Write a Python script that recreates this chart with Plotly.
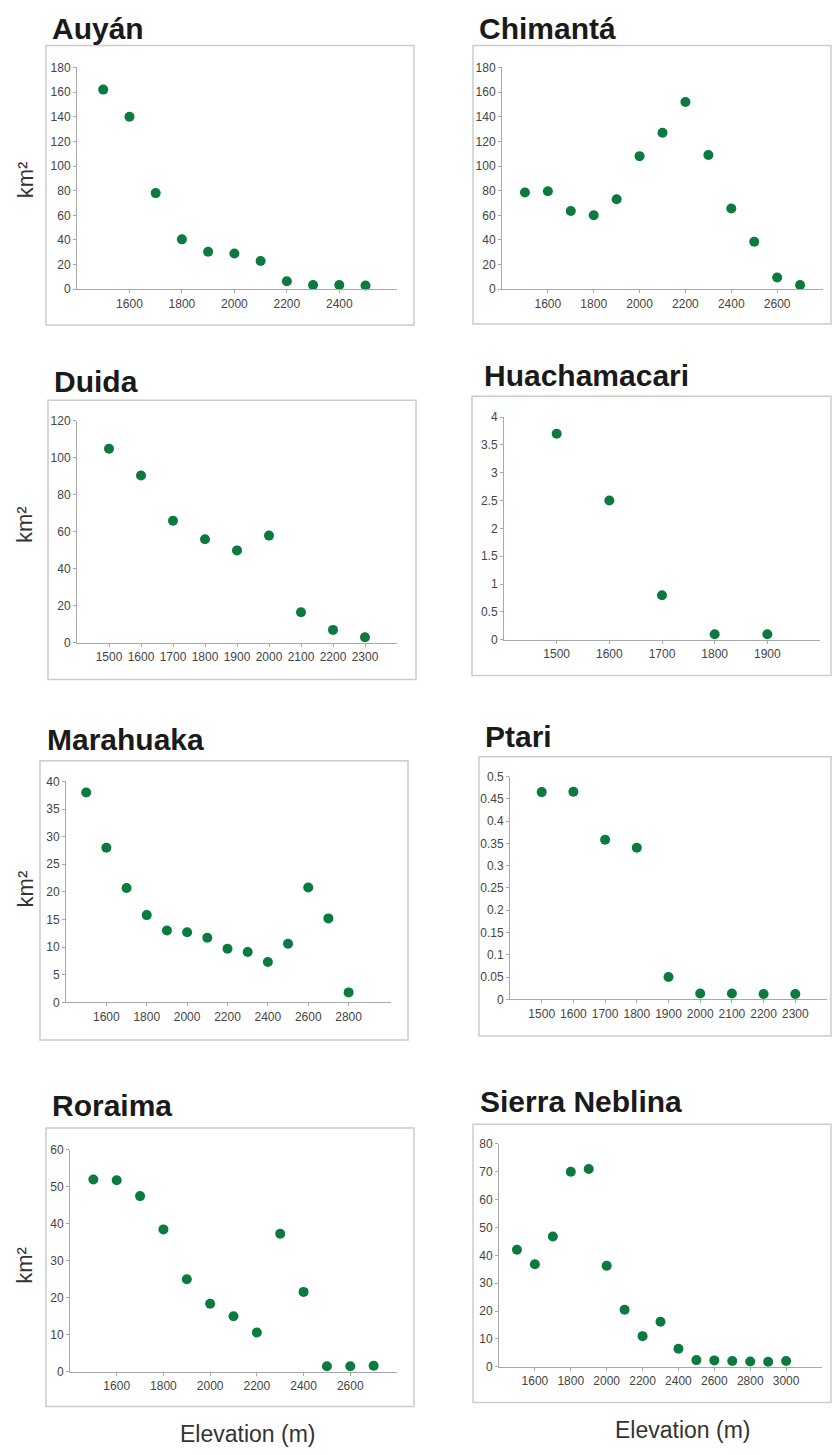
import plotly.graph_objects as go

W, H = 833, 1455

# ---------------- data ----------------
titles = ["Auyán", "Chimantá", "Duida", "Huachamacari",
          "Marahuaka", "Ptari", "Roraima", "Sierra Neblina"]

elev_auyan = [1500, 1600, 1700, 1800, 1900, 2000, 2100, 2200, 2300, 2400, 2500]
area_auyan = [162, 140, 78, 40.5, 30.5, 29, 23, 6.5, 3.5, 3.5, 3]

elev_chimanta = [1500, 1600, 1700, 1800, 1900, 2000, 2100, 2200, 2300, 2400, 2500, 2600, 2700]
area_chimanta = [78.5, 79.5, 63.5, 60, 73, 108, 127, 152, 109, 65.5, 38.5, 9.5, 3.5]

elev_duida = [1500, 1600, 1700, 1800, 1900, 2000, 2100, 2200, 2300]
area_duida = [105, 90.5, 66, 56, 50, 58, 16.5, 7, 3]

elev_huacha = [1500, 1600, 1700, 1800, 1900]
area_huacha = [3.7, 2.5, 0.8, 0.1, 0.1]

elev_marahuaka = [1500, 1600, 1700, 1800, 1900, 2000, 2100, 2200, 2300, 2400, 2500, 2600, 2700, 2800]
area_marahuaka = [38, 28, 20.7, 15.8, 13, 12.7, 11.7, 9.7, 9.1, 7.3, 10.6, 20.8, 15.2, 1.8]

elev_ptari = [1500, 1600, 1700, 1800, 1900, 2000, 2100, 2200, 2300]
area_ptari = [0.465, 0.466, 0.358, 0.340, 0.050, 0.013, 0.013, 0.012, 0.012]

elev_roraima = [1500, 1600, 1700, 1800, 1900, 2000, 2100, 2200, 2300, 2400, 2500, 2600, 2700]
area_roraima = [52, 51.8, 47.5, 38.5, 25, 18.4, 15, 10.6, 37.3, 21.6, 1.5, 1.5, 1.6]

elev_neblina = [1500, 1600, 1700, 1800, 1900, 2000, 2100, 2200, 2300, 2400, 2500, 2600, 2700, 2800, 2900, 3000]
area_neblina = [42, 36.8, 46.8, 70, 71, 36.3, 20.5, 11, 16.2, 6.5, 2.4, 2.3, 2.1, 1.9, 1.8, 2.1]

xticks_auyan = [1600, 1800, 2000, 2200, 2400]
xticks_chimanta = [1600, 1800, 2000, 2200, 2400, 2600]
xticks_duida = [1500, 1600, 1700, 1800, 1900, 2000, 2100, 2200, 2300]
xticks_huacha = [1500, 1600, 1700, 1800, 1900]
xticks_marahuaka = [1600, 1800, 2000, 2200, 2400, 2600, 2800]
xticks_ptari = [1500, 1600, 1700, 1800, 1900, 2000, 2100, 2200, 2300]
xticks_roraima = [1600, 1800, 2000, 2200, 2400, 2600]
xticks_neblina = [1600, 1800, 2000, 2200, 2400, 2600, 2800, 3000]

y_label = "km²"
x_label = "Elevation (m)"

series = [
    (elev_auyan, area_auyan, xticks_auyan),
    (elev_chimanta, area_chimanta, xticks_chimanta),
    (elev_duida, area_duida, xticks_duida),
    (elev_huacha, area_huacha, xticks_huacha),
    (elev_marahuaka, area_marahuaka, xticks_marahuaka),
    (elev_ptari, area_ptari, xticks_ptari),
    (elev_roraima, area_roraima, xticks_roraima),
    (elev_neblina, area_neblina, xticks_neblina),
]

# ---------------- layout geometry (pixels) ----------------
geom = [
    dict(x0=77, x1=397, yt=61, yb=285, xr=[1400, 2620], ym=180, dt=20,
         box=(46, 39, 414, 321), tpos=(50, 22)),
    dict(x0=502, x1=823, yt=61, yb=285, xr=[1400, 2800], ym=180, dt=20,
         box=(473, 39, 831, 320), tpos=(477, 22)),
    dict(x0=77, x1=397, yt=418, yb=642, xr=[1400, 2400], ym=120, dt=20,
         box=(48, 397, 416, 679), tpos=(52, 378)),
    dict(x0=504, x1=820, yt=414, yb=639, xr=[1400, 2000], ym=4, dt=0.5,
         box=(472, 393, 831, 675), tpos=(482, 372)),
    dict(x0=66, x1=391, yt=782, yb=1005, xr=[1400, 3010], ym=40, dt=5,
         box=(40, 761, 408, 1043), tpos=(45, 740)),
    dict(x0=510, x1=827, yt=777, yb=1002, xr=[1400, 2400], ym=0.5, dt=0.05,
         box=(479, 757, 831, 1039), tpos=(483, 737)),
    dict(x0=70, x1=397, yt=1154, yb=1378, xr=[1400, 2800], ym=60, dt=10,
         box=(46, 1132, 414, 1413), tpos=(50, 1109)),
    dict(x0=499, x1=822, yt=1148, yb=1373, xr=[1400, 3200], ym=80, dt=10,
         box=(473, 1128, 831, 1409), tpos=(478, 1105)),
]

km_label_y = [175, 523, 891, 1271]
elev_label_pos = [(248, 1441), (682, 1437)]

FONT = "Arial, Liberation Sans, sans-serif"
GREEN = "#0b7a3e"
AXIS = "#a8a8a8"
TICKFONT = dict(family=FONT, size=12, color="#444444")


def fx(px):
    return px / W


def fy(py):
    return 1 - py / H


fig = go.Figure()
layout = dict(
    width=W, height=H,
    margin=dict(l=0, r=0, t=0, b=0),
    paper_bgcolor="white", plot_bgcolor="white",
    showlegend=False,
    font=dict(family=FONT),
    shapes=[], annotations=[],
)

for i, ((xs, ys, xt), g) in enumerate(zip(series, geom)):
    n = i + 1
    xa = "x" if n == 1 else f"x{n}"
    ya = "y" if n == 1 else f"y{n}"
    xkey = "xaxis" if n == 1 else f"xaxis{n}"
    ykey = "yaxis" if n == 1 else f"yaxis{n}"

    fig.add_trace(go.Scatter(
        x=xs, y=ys, mode="markers", xaxis=xa, yaxis=ya,
        marker=dict(size=10, color=GREEN, line=dict(width=0)),
        cliponaxis=False, hoverinfo="x+y",
    ))

    layout[xkey] = dict(
        domain=[fx(g["x0"]), fx(g["x1"])], anchor=ya,
        range=g["xr"], tickmode="array", tickvals=xt,
        showgrid=False, zeroline=False, showline=True, linecolor=AXIS, linewidth=1,
        ticks="outside", ticklen=3, tickcolor=AXIS, tickfont=TICKFONT,
    )
    layout[ykey] = dict(
        domain=[fy(g["yb"]), fy(g["yt"])], anchor=xa,
        range=[0, g["ym"]], tick0=0, dtick=g["dt"],
        showgrid=False, zeroline=False, showline=True, linecolor=AXIS, linewidth=1,
        ticks="outside", ticklen=3, tickcolor=AXIS, tickfont=TICKFONT,
    )

    l, t, r, b = g["box"]
    layout["shapes"].append(dict(
        type="rect", xref="paper", yref="paper",
        x0=fx(l), x1=fx(r), y0=fy(b), y1=fy(t),
        line=dict(color="#cccccc", width=1.5), fillcolor="rgba(0,0,0,0)", layer="below",
    ))

    tx, ty = g["tpos"]
    layout["annotations"].append(dict(
        text=titles[i], xref="paper", yref="paper",
        x=fx(tx), y=fy(ty), xanchor="left", yanchor="middle", showarrow=False,
        font=dict(family=FONT, size=30, color="#1a1a1a", weight="bold"),
    ))

for ky in km_label_y:
    layout["annotations"].append(dict(
        text=y_label, xref="paper", yref="paper",
        x=fx(25), y=fy(ky), xanchor="center", yanchor="middle", showarrow=False,
        textangle=-90, font=dict(family=FONT, size=22, color="#333333"),
    ))

for (ex, ey) in elev_label_pos:
    layout["annotations"].append(dict(
        text=x_label, xref="paper", yref="paper",
        x=fx(ex), y=fy(ey), xanchor="center", yanchor="middle", showarrow=False,
        font=dict(family=FONT, size=23, color="#333333"),
    ))

fig.update_layout(**layout)
fig.write_html("out.html")
